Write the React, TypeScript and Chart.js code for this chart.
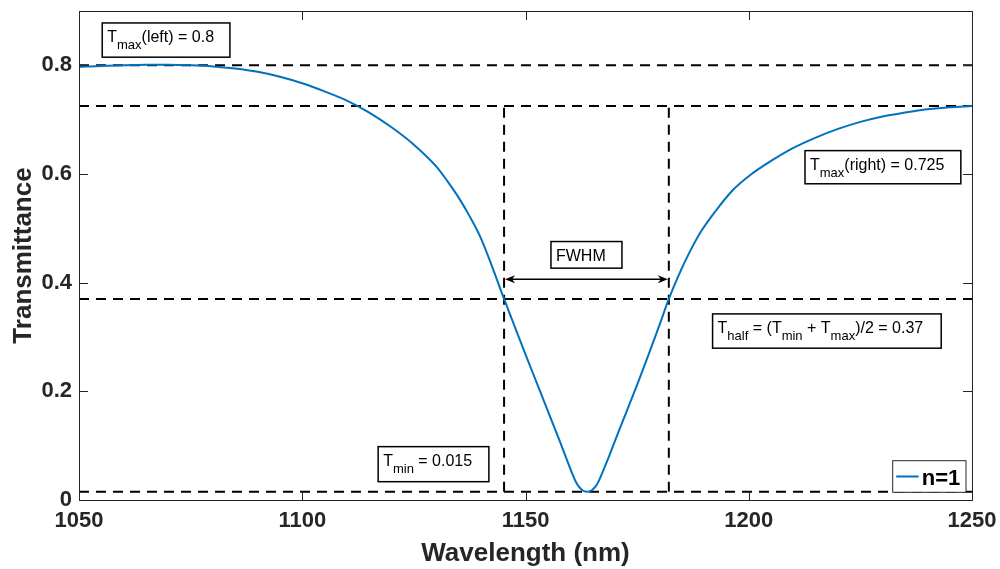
import React, { useEffect, useRef } from 'react';
import { Chart, registerables } from 'chart.js';

Chart.register(...registerables);

// ---- Data ----
const wavelengths = [
  1050, 1055, 1060, 1065, 1070, 1075, 1080, 1085, 1090, 1095, 1100, 1105, 1110, 1115, 1120,
  1125, 1130, 1132.5, 1135, 1137.5, 1140, 1142.5, 1145.2, 1147.5, 1150, 1152.5, 1155, 1157.5,
  1159, 1160.45, 1161.5, 1162.6, 1163.8, 1165, 1166.1, 1167.15, 1168.5, 1170, 1172.5, 1175, 1177.5,
  1180, 1182.1, 1184, 1186.5, 1189, 1192.5, 1196.5, 1200, 1205, 1210, 1215, 1220, 1225, 1230,
  1235, 1240, 1245, 1250,
];
const transmittance = [
  0.797, 0.799, 0.8, 0.801, 0.801, 0.8, 0.798, 0.794, 0.788, 0.779, 0.767, 0.752, 0.735, 0.713, 0.686,
  0.654, 0.614, 0.587, 0.557, 0.522, 0.482, 0.43, 0.37, 0.321, 0.268, 0.216, 0.164, 0.112,
  0.08, 0.049, 0.03, 0.019, 0.015, 0.019, 0.03, 0.049, 0.076, 0.108, 0.16, 0.212, 0.266,
  0.322, 0.37, 0.408, 0.452, 0.49, 0.531, 0.571, 0.596, 0.624, 0.648, 0.667, 0.683, 0.696, 0.706,
  0.713, 0.719, 0.723, 0.725,
];
const seriesLabel = 'n=1';
const xTicks = [1050, 1100, 1150, 1200, 1250];
const yTicks = [0, 0.2, 0.4, 0.6, 0.8];
const xRange = [1050, 1250];
const yRange = [0, 0.9];
const levelValues = [0.8, 0.725, 0.37, 0.015]; // Tmax(left), Tmax(right), Thalf, Tmin
const halfWavelengths = [1145.2, 1182.1];
const fwhmLevel = 0.4064;

const FONT = '"Liberation Sans", Arial, Helvetica, sans-serif';
const AXIS_COLOR = '#262626';
const LINE_COLOR = '#0072BD';

type Part = [string, boolean?];
interface Note {
  box: [number, number, number, number]; // x1, x2 (data), yTop, yBottom (data)
  parts: Part[];
}

const notes: Note[] = [
  { box: [1055.2, 1083.8, 0.878, 0.815], parts: [['T'], ['max', true], ['(left) = 0.8']] },
  { box: [1212.6, 1247.5, 0.643, 0.582], parts: [['T'], ['max', true], ['(right) = 0.725']] },
  { box: [1155.7, 1171.6, 0.4757, 0.4267], parts: [['FWHM']] },
  {
    box: [1191.9, 1243.1, 0.3425, 0.2794],
    parts: [['T'], ['half', true], [' = (T'], ['min', true], [' + T'], ['max', true], [')/2 = 0.37']],
  },
  { box: [1117.0, 1141.8, 0.0982, 0.0337], parts: [['T'], ['min', true], [' = 0.015']] },
];

const annotationPlugin = {
  id: 'annotations',
  afterDatasetsDraw(chart: any) {
    const ctx = chart.ctx as CanvasRenderingContext2D;
    const xs = chart.scales.x;
    const ys = chart.scales.y;
    ctx.save();

    // FWHM double arrow
    const ay = ys.getPixelForValue(fwhmLevel);
    const ax1 = xs.getPixelForValue(halfWavelengths[0]) + 1;
    const ax2 = xs.getPixelForValue(halfWavelengths[1]) - 1;
    ctx.strokeStyle = '#000';
    ctx.fillStyle = '#000';
    ctx.lineWidth = 1.5;
    ctx.beginPath();
    ctx.moveTo(ax1 + 4, ay);
    ctx.lineTo(ax2 - 4, ay);
    ctx.stroke();
    const head = (tipX: number, dir: number) => {
      ctx.beginPath();
      ctx.moveTo(tipX, ay);
      ctx.lineTo(tipX + dir * 10, ay - 4);
      ctx.lineTo(tipX + dir * 7, ay);
      ctx.lineTo(tipX + dir * 10, ay + 4);
      ctx.closePath();
      ctx.fill();
    };
    head(ax1, 1);
    head(ax2, -1);

    // Text boxes
    for (const n of notes) {
      const x1 = xs.getPixelForValue(n.box[0]);
      const x2 = xs.getPixelForValue(n.box[1]);
      const y1 = ys.getPixelForValue(n.box[2]);
      const y2 = ys.getPixelForValue(n.box[3]);
      ctx.fillStyle = '#fff';
      ctx.fillRect(x1, y1, x2 - x1, y2 - y1);
      ctx.strokeStyle = '#000';
      ctx.lineWidth = 1.5;
      ctx.strokeRect(x1, y1, x2 - x1, y2 - y1);
      let tx = x1 + 5;
      const base = y1 + 19.5;
      ctx.fillStyle = '#000';
      ctx.textBaseline = 'alphabetic';
      ctx.textAlign = 'left';
      for (const [t, sub] of n.parts) {
        ctx.font = sub ? `13px ${FONT}` : `16px ${FONT}`;
        ctx.fillText(t, tx, sub ? base + 7 : base);
        tx += ctx.measureText(t).width;
      }
    }
    ctx.restore();
  },
  afterDraw(chart: any) {
    const ctx = chart.ctx as CanvasRenderingContext2D;
    const xs = chart.scales.x;
    const ys = chart.scales.y;
    const { left, right, top, bottom } = chart.chartArea;
    ctx.save();
    // frame
    ctx.strokeStyle = AXIS_COLOR;
    ctx.lineWidth = 1;
    ctx.strokeRect(left + 0.5, top + 0.5, right - left, bottom - top);
    // inward ticks
    const tl = 9;
    ctx.beginPath();
    for (const v of xTicks) {
      const px = Math.round(xs.getPixelForValue(v)) + 0.5;
      ctx.moveTo(px, bottom);
      ctx.lineTo(px, bottom - tl);
      ctx.moveTo(px, top);
      ctx.lineTo(px, top + tl);
    }
    for (const v of yTicks) {
      const py = Math.round(ys.getPixelForValue(v)) + 0.5;
      ctx.moveTo(left, py);
      ctx.lineTo(left + tl, py);
      ctx.moveTo(right, py);
      ctx.lineTo(right - tl, py);
    }
    ctx.stroke();

    // legend
    const lx1 = right - 79.3;
    const lx2 = right - 6;
    const ly1 = bottom - 39.3;
    const ly2 = bottom - 7.7;
    ctx.fillStyle = '#fff';
    ctx.fillRect(lx1, ly1, lx2 - lx1, ly2 - ly1);
    ctx.strokeStyle = AXIS_COLOR;
    ctx.lineWidth = 1;
    ctx.strokeRect(lx1, ly1, lx2 - lx1, ly2 - ly1);
    const ly = (ly1 + ly2) / 2;
    ctx.strokeStyle = LINE_COLOR;
    ctx.lineWidth = 2;
    ctx.beginPath();
    ctx.moveTo(lx1 + 3.5, ly);
    ctx.lineTo(lx1 + 26, ly);
    ctx.stroke();
    ctx.fillStyle = '#000';
    ctx.font = `bold 22px ${FONT}`;
    ctx.textAlign = 'left';
    ctx.textBaseline = 'alphabetic';
    ctx.fillText(seriesLabel, lx1 + 29, ly + 8.3);
    ctx.restore();
  },
};

export default function App() {
  const canvasRef = useRef<HTMLCanvasElement | null>(null);

  useEffect(() => {
    const canvas = canvasRef.current;
    if (!canvas) return;

    const dashed = {
      borderColor: '#000',
      borderWidth: 2,
      borderDash: [10, 7],
      pointRadius: 0,
      fill: false,
      tension: 0,
    };

    const datasets: any[] = [
      {
        label: seriesLabel,
        data: wavelengths.map((x, i) => ({ x, y: transmittance[i] })),
        borderColor: LINE_COLOR,
        backgroundColor: LINE_COLOR,
        borderWidth: 2,
        pointRadius: 0,
        cubicInterpolationMode: 'monotone',
        fill: false,
      },
      ...levelValues.map((v) => ({
        ...dashed,
        label: `level ${v}`,
        data: [
          { x: xRange[0], y: v },
          { x: xRange[1], y: v },
        ],
      })),
      ...halfWavelengths.map((w) => ({
        ...dashed,
        label: `half ${w}`,
        data: [
          { x: w, y: levelValues[3] },
          { x: w, y: levelValues[1] },
        ],
      })),
    ];

    const chart = new Chart(canvas, {
      type: 'line',
      data: { datasets },
      plugins: [annotationPlugin],
      options: {
        animation: false,
        responsive: false,
        maintainAspectRatio: false,
        events: [],
        layout: { padding: { left: 0, right: 28, top: 11, bottom: 0 } },
        plugins: {
          legend: { display: false },
          tooltip: { enabled: false },
          title: { display: false },
        },
        scales: {
          x: {
            type: 'linear',
            min: xRange[0],
            max: xRange[1],
            afterBuildTicks: (s: any) => {
              s.ticks = xTicks.map((value) => ({ value }));
            },
            afterFit: (s: any) => {
              s.height = 69;
              s.paddingLeft = 0;
              s.paddingRight = 0;
            },
            grid: { display: false, drawTicks: false },
            border: { display: false },
            ticks: {
              padding: 8,
              maxRotation: 0,
              autoSkip: false,
              color: AXIS_COLOR,
              font: { family: FONT, size: 22, weight: 'bold' },
              callback: (v: any) => String(v),
            },
            title: {
              display: true,
              text: 'Wavelength (nm)',
              color: AXIS_COLOR,
              font: { family: FONT, size: 26, weight: 'bold' },
              padding: { top: 0, bottom: 0 },
            },
          },
          y: {
            type: 'linear',
            min: yRange[0],
            max: yRange[1],
            afterBuildTicks: (s: any) => {
              s.ticks = yTicks.map((value) => ({ value }));
            },
            afterFit: (s: any) => {
              s.width = 79;
              s.paddingTop = 0;
              s.paddingBottom = 0;
            },
            grid: { display: false, drawTicks: false },
            border: { display: false },
            ticks: {
              padding: 7,
              autoSkip: false,
              color: AXIS_COLOR,
              font: { family: FONT, size: 22, weight: 'bold' },
              callback: (v: any) => String(Math.round(Number(v) * 10) / 10),
            },
            title: {
              display: true,
              text: 'Transmittance',
              color: AXIS_COLOR,
              font: { family: FONT, size: 26, weight: 'bold' },
              padding: { top: 8, bottom: 0 },
            },
          },
        },
      } as any,
    });

    return () => chart.destroy();
  }, []);

  return (
    <div style={{ position: 'absolute', left: 0, top: 0, width: 1000, height: 569, background: '#fff' }}>
      <canvas ref={canvasRef} width={1000} height={569} style={{ display: 'block' }} />
    </div>
  );
}
